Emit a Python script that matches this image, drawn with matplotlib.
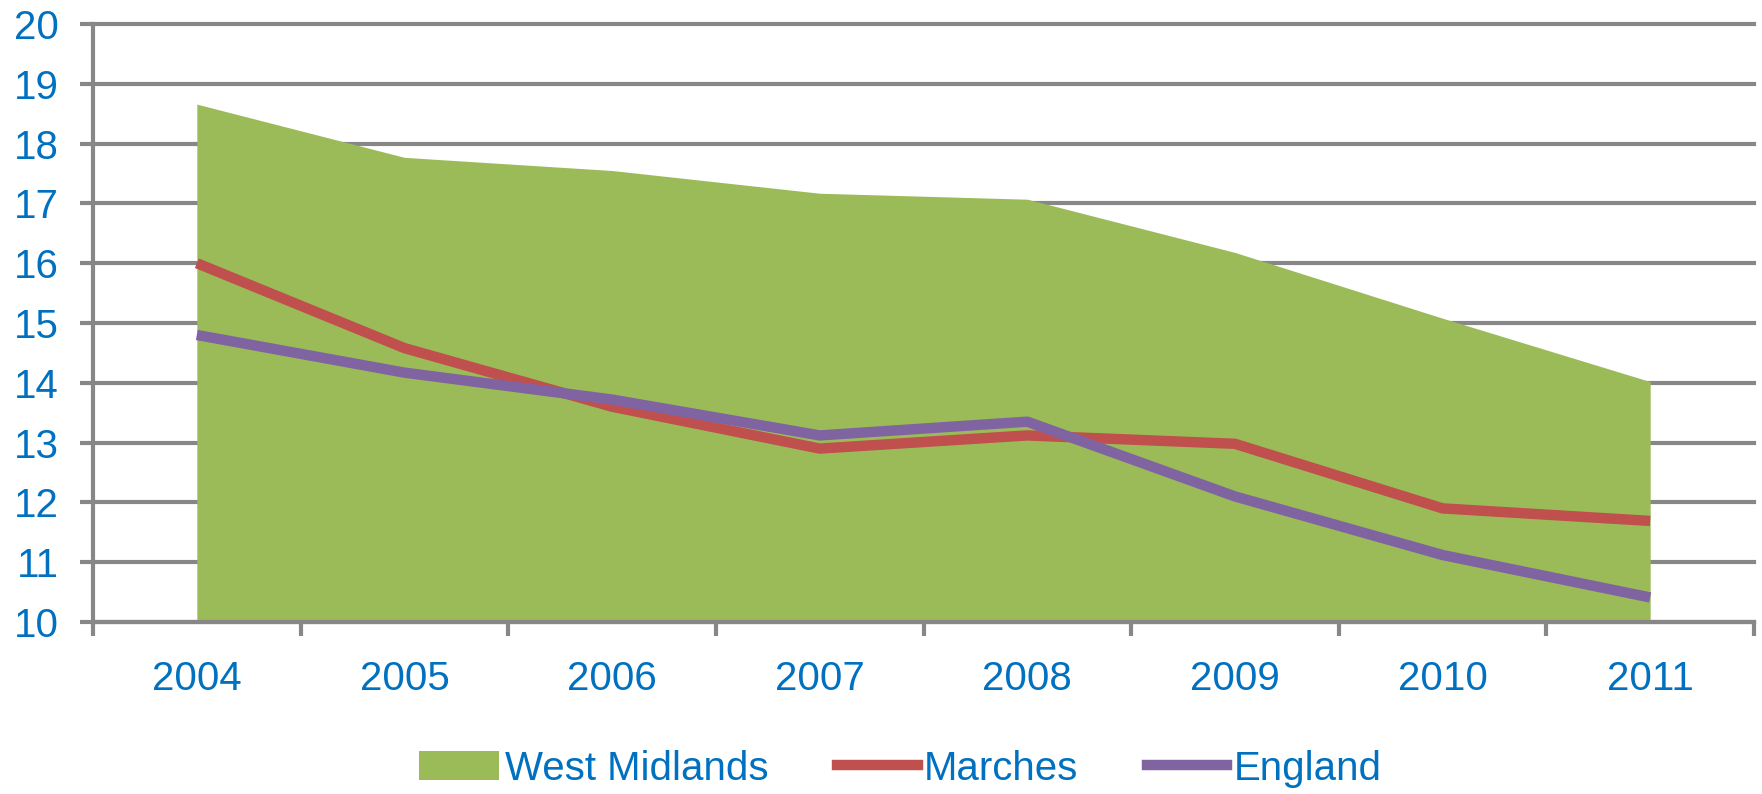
import matplotlib.pyplot as plt
from matplotlib.patches import Patch
from matplotlib.lines import Line2D

years = ['2004', '2005', '2006', '2007', '2008', '2009', '2010', '2011']
west_midlands = [18.66, 17.77, 17.55, 17.17, 17.07, 16.18, 15.08, 14.02]
marches = [16.0, 14.58, 13.6, 12.9, 13.12, 12.98, 11.9, 11.69]
england = [14.8, 14.17, 13.72, 13.12, 13.35, 12.1, 11.12, 10.41]

blue_txt = '#0070C0'
grey = '#878787'
plt.rcParams['font.family'] = ['Liberation Sans Narrow', 'Liberation Sans', 'DejaVu Sans']
fs = 29

fig = plt.figure(figsize=(17.62, 7.94), dpi=100)
ax = fig.add_axes([93 / 1762, 1 - 622 / 794, (1754 - 93) / 1762, (622 - 24) / 794])

x = list(range(len(years)))
ax.fill_between(x, west_midlands, 10, color='#9BBB59', lw=0, zorder=2)
ax.plot(x, marches, color='#C0504D', lw=7.5, solid_capstyle='butt', zorder=3)
ax.plot(x, england, color='#8064A2', lw=7.5, solid_capstyle='butt', zorder=4)

ax.set_xlim(-0.5, len(years) - 0.5)
ax.set_ylim(10, 20)

# y axis
ax.set_yticks(range(10, 21))
ax.yaxis.grid(True, color=grey, lw=3)
for gl in ax.yaxis.get_gridlines():
    gl.set_clip_on(False)
ax.set_axisbelow(True)
ax.tick_params(axis='y', length=9.4, width=3, color=grey, pad=15.5,
               labelsize=fs, labelcolor=blue_txt)

# x axis: tick marks between categories, labels at centers
ax.set_xticks([i - 0.5 for i in range(len(years) + 1)])
ax.set_xticklabels([])
ax.set_xticks(x, minor=True)
ax.set_xticklabels(years, minor=True)
ax.tick_params(axis='x', which='major', length=10, width=3, color=grey)
ax.tick_params(axis='x', which='minor', length=0, pad=27, labelsize=fs,
               labelcolor=blue_txt)

for s in ['top', 'right']:
    ax.spines[s].set_visible(False)
for s in ['left', 'bottom']:
    ax.spines[s].set_color(grey)
    ax.spines[s].set_linewidth(3)
    ax.spines[s].set_zorder(5)

handles = [Patch(color='#9BBB59', lw=0),
           Line2D([], [], color='#C0504D', lw=7.5),
           Line2D([], [], color='#8064A2', lw=7.5)]
fig.legend(handles, ['West Midlands', 'Marches', 'England'], loc='center',
           bbox_to_anchor=(900 / 1762, 0.032), ncol=3, frameon=False,
           fontsize=fs, labelcolor=blue_txt, handlelength=2.0, handleheight=0.7,
           handletextpad=0.15, columnspacing=1.7)

plt.savefig('out.png', dpi=100)
